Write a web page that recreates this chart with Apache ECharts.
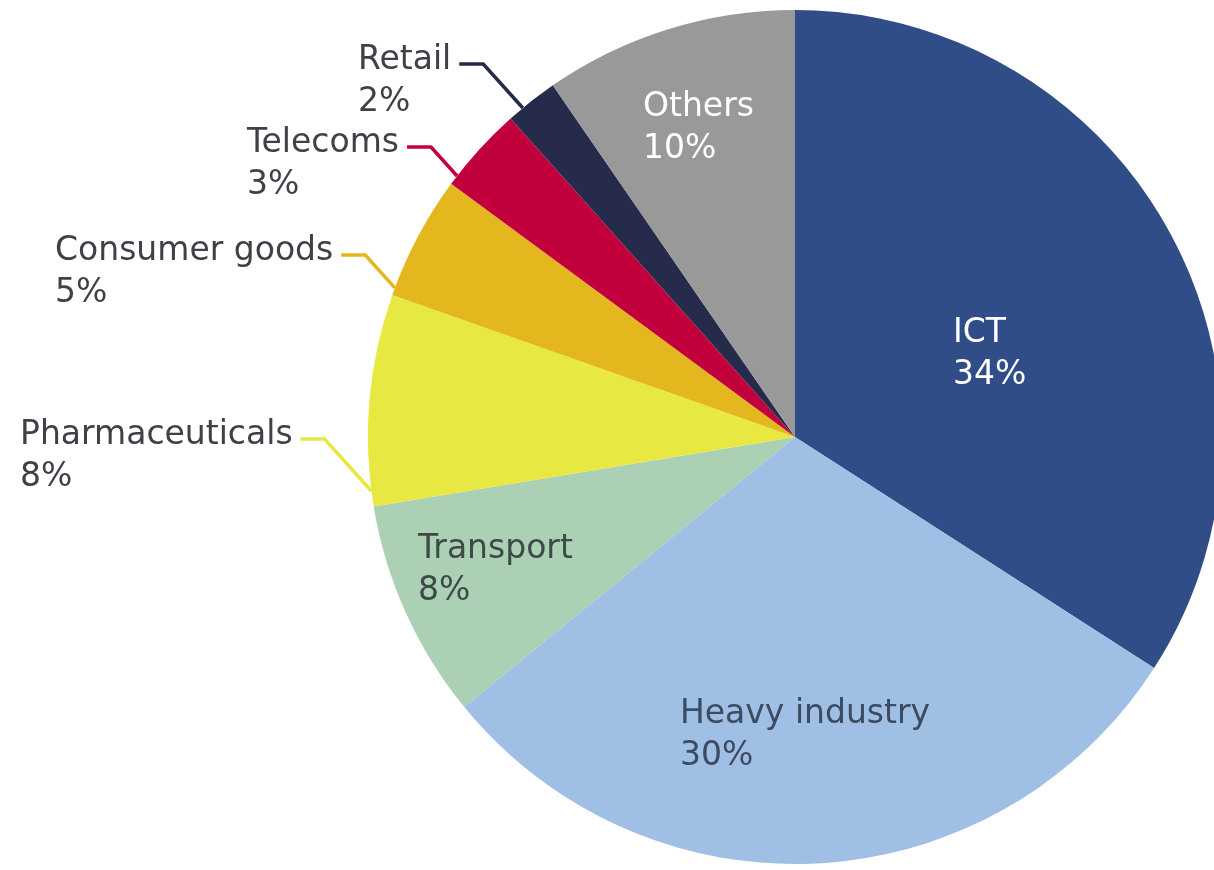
<!DOCTYPE html>
<html><head><meta charset="utf-8">
<script src="https://cdn.jsdelivr.net/npm/echarts@6/dist/echarts.min.js"></script>
<style>html,body{margin:0;padding:0;background:#fff}#c{width:1214px;height:870px}</style>
</head><body><div id="c"></div>
<script>
// ---- data (shares in %; labels show rounded values) ----
const categories = ['ICT', 'Heavy industry', 'Transport', 'Pharmaceuticals', 'Consumer goods', 'Telecoms', 'Retail', 'Others'];
const shares = [34.1, 30.0, 8.3, 8.0, 4.7, 3.3, 2.0, 9.6];

// ---- styling / layout (not data) ----
const colors = ['#304d88', '#a0bfe5', '#abd0b4', '#e8e843', '#e4b71f', '#c2003c', '#272b4b', '#999999'];
const insideLabel = [true, true, true, false, false, false, false, true];
const labelColors = ['#ffffff', '#3d4b60', '#3d4a48', '#404048', '#404048', '#404048', '#404048', '#ffffff'];
const FONT = 33, LINE_H = 42;
const CENTER = [795, 437], RADIUS = 427;
// top-left corner of each label's text block
const labelPos = {
  'ICT': [953, 312],
  'Heavy industry': [680, 693],
  'Transport': [418, 528],
  'Pharmaceuticals': [20, 414],
  'Consumer goods': [55, 230],
  'Telecoms': [247, 122],
  'Retail': [358, 39],
  'Others': [643, 86]
};
const LEADER_GAP = 8, LEADER_H = 24, LEADER_DEG = 48;

const chart = echarts.init(document.getElementById('c'), null, {renderer: 'canvas'});
const data = categories.map((name, i) => ({
  name: name,
  value: shares[i],
  itemStyle: {color: colors[i]},
  label: {
    position: insideLabel[i] ? 'inside' : 'outside',
    color: labelColors[i]
  },
  labelLine: {
    show: !insideLabel[i],
    lineStyle: {color: colors[i], width: 3.5}
  }
}));

function hitCircle(e, dir) {
  const ox = e[0] - CENTER[0], oy = e[1] - CENTER[1];
  const b = ox * dir[0] + oy * dir[1];
  const c = ox * ox + oy * oy - RADIUS * RADIUS;
  const disc = b * b - c;
  const t = disc > 0 ? -b - Math.sqrt(disc) : 0;
  return [e[0] + dir[0] * t, e[1] + dir[1] * t];
}

chart.setOption({
  animation: false,
  series: [{
    type: 'pie',
    center: CENTER,
    radius: RADIUS,
    startAngle: 90,
    clockwise: true,
    avoidLabelOverlap: false,
    data: data,
    label: {
      show: true,
      formatter: p => p.name + '\n' + Math.round(p.value) + '%',
      fontFamily: 'DejaVu Sans',
      fontSize: FONT,
      lineHeight: LINE_H,
      align: 'left'
    },
    labelLine: {show: true, length: 20, length2: 20, smooth: false},
    labelLayout: function (p) {
      const idx = p.dataIndex;
      const pos = labelPos[categories[idx]];
      const out = {x: pos[0], y: pos[1], align: 'left', verticalAlign: 'top'};
      if (!insideLabel[idx]) {
        const ly = pos[1] + LINE_H / 2 + 4;
        const x0 = pos[0] + p.labelRect.width + LEADER_GAP;
        const elbow = [x0 + LEADER_H, ly];
        const a = LEADER_DEG * Math.PI / 180;
        const end = hitCircle(elbow, [Math.cos(a), Math.sin(a)]);
        out.labelLinePoints = [end, elbow, [x0, ly]];
      }
      return out;
    }
  }]
});
</script>
</body></html>
